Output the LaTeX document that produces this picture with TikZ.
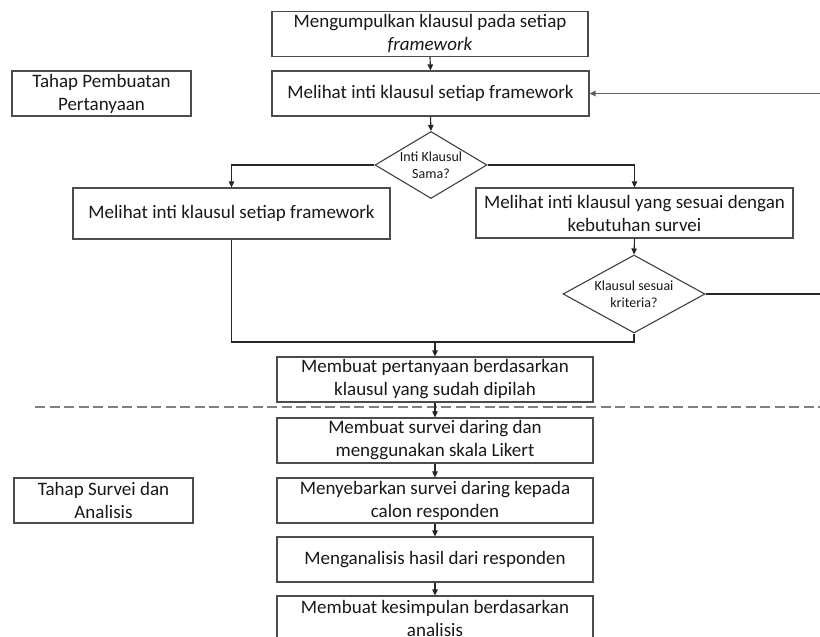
\documentclass[tikz,border=0pt]{standalone}
\usepackage{fontspec}
\setmainfont{Carlito}
\usetikzlibrary{shapes.geometric,arrows.meta}
\begin{document}
\begin{tikzpicture}[x=1pt,y=-1pt,
  box/.style={draw=black!70,line width=1.2pt,fill=white,inner sep=0pt,align=center,
    font=\fontsize{19}{23}\selectfont,text=black!90,minimum width=316pt,minimum height=45pt},
  dia/.style={diamond,draw=black!75,line width=1.1pt,fill=white,inner sep=0pt,aspect=1.7,align=center,
    font=\fontsize{14}{17}\selectfont,text=black!90},
  conn/.style={draw=black!85,line width=1.1pt},
  arr/.style={conn,-{Triangle[length=6pt,width=5.5pt]}}]
\path[use as bounding box] (0,0) rectangle (820,637);
\clip (0,0) rectangle (820,637);

% nodes
\node[box] (b1) at (430,34) {Mengumpulkan klausul pada setiap\\\textit{framework}};
\node[box,minimum width=317pt] (b2) at (430.5,93.5) {Melihat inti klausul setiap framework};
\node[box,minimum width=179pt] (lab1) at (101.5,93.5) {Tahap Pembuatan\\Pertanyaan};
\node[dia,minimum width=112pt,minimum height=67pt] (d1) at (431,165) {Inti Klausul\\Sama?};
\node[box,minimum width=317pt,minimum height=51pt] (b3) at (231.5,213.5) {Melihat inti klausul setiap framework};
\node[box,minimum width=317pt,minimum height=50pt] (b4) at (634.5,213) {Melihat inti klausul yang sesuai dengan\\kebutuhan survei};
\node[dia,minimum width=142pt,minimum height=78pt] (d2) at (634,294) {Klausul sesuai\\kriteria?};
\node[box] (b5) at (435,379.5) {Membuat pertanyaan berdasarkan\\klausul yang sudah dipilah};
\node[box] (b6) at (435,440.5) {Membuat survei daring dan\\menggunakan skala Likert};
\node[box] (b7) at (435,500.5) {Menyebarkan survei daring kepada\\calon responden};
\node[box] (b8) at (435,559.5) {Menganalisis hasil dari responden};
\node[box] (b9) at (435,618.5) {Membuat kesimpulan berdasarkan\\analisis};
\node[box,minimum width=179pt] (lab2) at (103.5,500.5) {Tahap Survei dan\\Analisis};

% free-end coordinates
\coordinate (r1) at (820,93.5);
\coordinate (r2) at (820,294);
\coordinate (jl) at (231.5,342);
\coordinate (jr) at (634,342);
\coordinate (dl) at (35,407);
\coordinate (dr) at (820,407);

% dashed separator
\draw[draw=black!50,line width=1.3pt,dash pattern=on 10pt off 4.5pt] (dl) -- (dr);

% connectors
\draw[arr] (b1.south) -- (b2.north);
\draw[arr,draw=black!62,line width=1.8pt] (r1) -- (b2.east);
\draw[arr] (b2.south) -- (d1.north);
\draw[arr] (d1.west) -| (b3.north);
\draw[arr] (d1.east) -| (b4.north);
\draw[arr] (b4.south) -- (d2.north);
\draw[conn] (d2.east) -- (r2);
\draw[conn] (b3.south) -- (jl) -- (jr) -- (d2.south);
\draw[arr] (b5.north |- jl) -- (b5.north);
\draw[arr] (b5.south) -- (b6.north);
\draw[arr] (b6.south) -- (b7.north);
\draw[arr] (b7.south) -- (b8.north);
\draw[arr] (b8.south) -- (b9.north);
\end{tikzpicture}
\end{document}
